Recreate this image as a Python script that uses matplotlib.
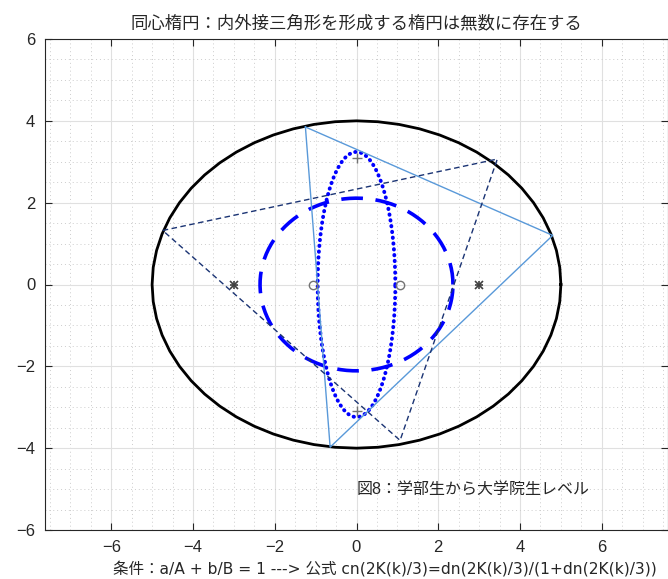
import numpy as np
import matplotlib
matplotlib.use('Agg')
from matplotlib import pyplot as plt
from matplotlib.ticker import MultipleLocator

plt.rcParams['font.family'] = ['Liberation Sans', 'Noto Sans CJK JP', 'DejaVu Sans']
plt.rcParams['axes.unicode_minus'] = True

# outer ellipse and the two inner ellipses (a/A + b/B = 1)
outer_ab = [5.0, 4.0]
inner_dash_ab = [2.36, 2.11]
inner_dot_ab = [0.95, 3.24]

# triangle inscribed in the outer ellipse, around the dotted ellipse
tri_light_x = [-1.25, 4.80, -0.645, -1.25]
tri_light_y = [3.85, 1.20, -3.975, 3.85]

# second triangle, around the dashed ellipse
tri_dash_x = [-4.74, 3.445, 1.066, -4.74]
tri_dash_y = [1.32, 3.066, -3.81, 1.32]

title_txt = '同心楕円：内外接三角形を形成する楕円は無数に存在する'
xlabel_txt = '条件：a/A + b/B = 1 ---> 公式 cn(2K(k)/3)=dn(2K(k)/3)/(1+dn(2K(k)/3))'
note_txt = '図8：学部生から大学院生レベル'

txt_col = (0.15, 0.15, 0.15)


def ellipse(ab, n):
	t = np.linspace(0, 2*np.pi, n)
	return ab[0]*np.cos(t), ab[1]*np.sin(t)


def foci(ab):
	c = np.sqrt(abs(ab[0]**2 - ab[1]**2))
	if ab[0] >= ab[1]:
		return [-c, c], [0, 0]
	return [0, 0], [-c, c]


fig = plt.figure(figsize=(6.68, 5.79), dpi=100)
ax = fig.add_axes([45/668, 49/579, 623/668, 491/579])

ox, oy = ellipse(outer_ab, 61)
ax.plot(ox, oy, color='k', lw=2.0, zorder=3)

dx, dy = ellipse(inner_dash_ab, 200)
ax.plot(dx, dy, color=(0, 0, 1), lw=2.6, ls=(0, (6, 3.5)), zorder=3)

tx, ty = ellipse(inner_dot_ab, 300)
ax.plot(tx, ty, color=(0, 0, 1), lw=2.8, ls=(0, (0.1, 1.4)), dash_capstyle='round', zorder=3)

ax.plot(tri_light_x, tri_light_y, color=(0.35, 0.6, 0.85), lw=1.0, zorder=4)
ax.plot(tri_dash_x, tri_dash_y, color=(0.1, 0.2, 0.45), lw=1.0, ls=(0, (4, 2.5)), zorder=4)

# focal points of each ellipse ('*' drawn as an asterisk of strokes)
fx, fy = foci(outer_ab)
for m in ['+', 'x']:
	ax.plot(fx, fy, ls='none', marker=m, ms=5.5, mew=1.2, color=(0.25, 0.25, 0.25), zorder=5)
fx, fy = foci(inner_dash_ab)
ax.plot(fx, fy, ls='none', marker='o', ms=6, mfc='none', mec=(0.45, 0.45, 0.45), zorder=5)
fx, fy = foci(inner_dot_ab)
ax.plot(fx, fy, ls='none', marker='+', ms=7, color=(0.45, 0.45, 0.45), zorder=5)

ax.text(0.0, -5.0, note_txt, fontsize=11.5, color=txt_col, ha='left', va='center')

ax.set_xlim(-7.62, 7.62)
ax.set_ylim(-6, 6)
ax.xaxis.set_major_locator(MultipleLocator(2))
ax.yaxis.set_major_locator(MultipleLocator(2))
ax.xaxis.set_minor_locator(MultipleLocator(0.5))
ax.yaxis.set_minor_locator(MultipleLocator(0.5))
ax.grid(which='major', color=(0.88, 0.88, 0.88), lw=0.8, ls='-')
ax.grid(which='minor', color=(0.8, 0.8, 0.8), lw=0.7, ls=(0, (1, 3)))
ax.set_axisbelow(True)
ax.tick_params(which='major', direction='in', length=5, top=True, right=True,
	labelsize=12, colors=txt_col, pad=7)
ax.tick_params(which='minor', length=0)
for s in ax.spines.values():
	s.set_color(txt_col)
	s.set_linewidth(0.8)

ax.set_title(title_txt, fontsize=12.5, color=txt_col, pad=8)
fig.text(113/668, 1 - 569/579, xlabel_txt, fontsize=11.2, color=txt_col, ha='left', va='center',
	family=['DejaVu Sans', 'Noto Sans CJK JP'])

fig.savefig('out.png', dpi=100)
